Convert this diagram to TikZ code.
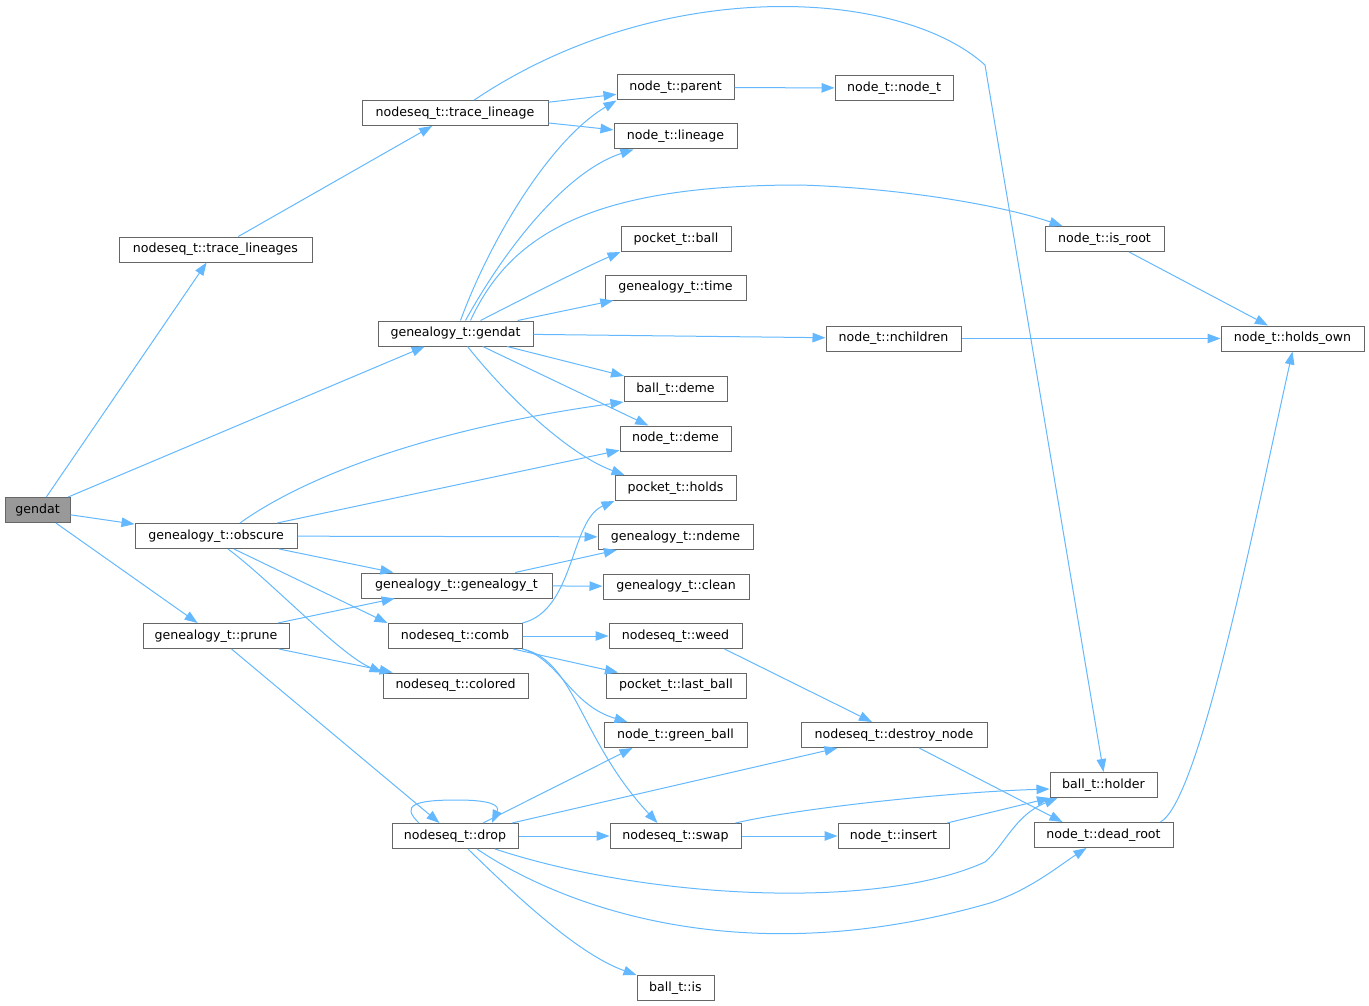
\documentclass[tikz,border=0pt]{standalone}
\usepackage{fontspec}
\setmainfont{DejaVu Sans}
\usetikzlibrary{arrows.meta}
\definecolor{callblue}{HTML}{63B8FF}
\definecolor{boxgray}{HTML}{666666}
\definecolor{rootgray}{HTML}{999999}

\begin{document}
\begin{tikzpicture}[x=1pt, y=-1pt,
		fn/.style={draw=boxgray, line width=1pt, rectangle, inner sep=0pt, minimum height=25pt, font=\fontsize{12.6}{15}\selectfont},
		root/.style={fn, fill=rootgray},
		calls/.style={draw=callblue, line width=1pt, -{Triangle[length=13pt,width=9.5pt]}}]
		\useasboundingbox (0,0) rectangle (1369,1006);
		% column 0 and 1
		\node[root, minimum width=65pt] (gendat) at (37.5,510) {gendat};
		\node[fn, minimum width=193pt] (tlins) at (215.5,249.5) {nodeseq\_t::trace\_lineages};
		\node[fn, minimum width=162pt] (obscure) at (216,536) {genealogy\_t::obscure};
		\node[fn, minimum width=146pt] (prune) at (216,636) {genealogy\_t::prune};
		% column 2
		\node[fn, minimum width=186pt] (tlin) at (455,113) {nodeseq\_t::trace\_lineage};
		\node[fn, minimum width=155pt] (ggendat) at (455.5,333.5) {genealogy\_t::gendat};
		\node[fn, minimum width=191pt] (gconstr) at (456.5,585.5) {genealogy\_t::genealogy\_t};
		\node[fn, minimum width=134pt] (comb) at (455,636) {nodeseq\_t::comb};
		\node[fn, minimum width=145pt] (colored) at (455.5,685.5) {nodeseq\_t::colored};
		\node[fn, minimum width=126pt] (drop) at (455,836) {nodeseq\_t::drop};
		% column 3
		\node[fn, minimum width=117pt] (parent) at (675.5,87.5) {node\_t::parent};
		\node[fn, minimum width=123pt] (lineage) at (675.5,136.5) {node\_t::lineage};
		\node[fn, minimum width=110pt] (pball) at (676,239) {pocket\_t::ball};
		\node[fn, minimum width=141pt] (gtime) at (675.5,287.5) {genealogy\_t::time};
		\node[fn, minimum width=103pt] (bdeme) at (675.5,389) {ball\_t::deme};
		\node[fn, minimum width=111pt] (ndeme) at (675.5,438.5) {node\_t::deme};
		\node[fn, minimum width=121pt] (holds) at (675.5,488) {pocket\_t::holds};
		\node[fn, minimum width=155pt] (gndeme) at (675.5,537) {genealogy\_t::ndeme};
		\node[fn, minimum width=146pt] (clean) at (676,586.5) {genealogy\_t::clean};
		\node[fn, minimum width=133pt] (weed) at (675.5,636) {nodeseq\_t::weed};
		\node[fn, minimum width=140pt] (lastball) at (676,685.5) {pocket\_t::last\_ball};
		\node[fn, minimum width=143pt] (greenball) at (675.5,735) {node\_t::green\_ball};
		\node[fn, minimum width=131pt] (swap) at (675.5,836) {nodeseq\_t::swap};
		\node[fn, minimum width=77pt] (ballis) at (675.5,988) {ball\_t::is};
		% column 4
		\node[fn, minimum width=118pt] (nodet) at (894,88) {node\_t::node\_t};
		\node[fn, minimum width=135pt] (nchildren) at (893.5,338.5) {node\_t::nchildren};
		\node[fn, minimum width=186pt] (destroy) at (894,735) {nodeseq\_t::destroy\_node};
		\node[fn, minimum width=111pt] (insert) at (893.5,836) {node\_t::insert};
		% column 5 and 6
		\node[fn, minimum width=119pt] (isroot) at (1104.5,239) {node\_t::is\_root};
		\node[fn, minimum width=107pt] (holder) at (1103.5,785) {ball\_t::holder};
		\node[fn, minimum width=139pt] (deadroot) at (1103.5,835) {node\_t::dead\_root};
		\node[fn, minimum width=143pt] (holdsown) at (1292.5,338.5) {node\_t::holds\_own};
		% calls of gendat
		\draw[calls] (gendat) -- (tlins);
		\draw[calls] (gendat) -- (ggendat);
		\draw[calls] (gendat) -- (obscure);
		\draw[calls] (gendat) -- (prune);
		% trace lineages
		\draw[calls] (tlins) -- (tlin);
		\draw[calls] (tlin) -- (parent);
		\draw[calls] (tlin) -- (lineage);
		\draw[calls] (tlin) .. controls (660,-25) and (900,-12) .. (985,65) -- (holder.north);
		\draw[calls] (parent) -- (nodet);
		% calls of genealogy_t::gendat
		\draw[calls] ([xshift=5pt]ggendat.north) .. controls (490,240) and (550,140) .. (parent.south west);
		\draw[calls] ([xshift=10pt]ggendat.north) .. controls (510,240) and (570,170) .. ([xshift=20pt]lineage.south west);
		\draw[calls] ([xshift=15pt]ggendat.north) .. controls (510,235) and (590,185) .. (800,185) .. controls (900,188) and (1000,205) .. ([xshift=18pt]isroot.north west);
		\draw[calls] ([xshift=25pt]ggendat.north) .. controls (540,290) and (590,265) .. (pball.south west);
		\draw[calls] (ggendat) -- (gtime);
		\draw[calls] (ggendat) -- (nchildren);
		\draw[calls] (ggendat) -- (bdeme);
		\draw[calls] (ggendat) -- (ndeme);
		\draw[calls] ([xshift=12pt]ggendat.south) .. controls (510,400) and (570,455) .. ([xshift=10pt]holds.north west);
		\draw[calls] (nchildren) -- (holdsown);
		\draw[calls] (isroot) -- (holdsown);
		% calls of obscure
		\draw[calls] ([xshift=24pt]obscure.north) .. controls (300,480) and (420,430) .. (bdeme.south west);
		\draw[calls] (obscure) -- (ndeme);
		\draw[calls] (obscure) -- (gndeme);
		\draw[calls] (obscure) -- (gconstr);
		\draw[calls] ([xshift=18pt]obscure.south) -- (comb.north west);
		\draw[calls] ([xshift=12pt]obscure.south) .. controls (270,580) and (340,655) .. (colored.north west);
		\draw[calls] (gconstr) -- (gndeme);
		\draw[calls] (gconstr) -- (clean);
		% calls of prune
		\draw[calls] (prune) -- (gconstr);
		\draw[calls] (prune) -- (colored);
		\draw[calls] (prune) -- (drop);
		% calls of comb
		\draw[calls] (comb.north east) .. controls (575,610) and (570,520) .. (holds.south west);
		\draw[calls] (comb) -- (weed);
		\draw[calls] (comb) -- (lastball);
		\draw[calls] (comb.south east) .. controls (560,660) and (570,705) .. ([xshift=-48pt]greenball.north);
		\draw[calls] (comb.south east) .. controls (575,660) and (580,740) .. ([xshift=-18pt]swap.north);
		\draw[calls] ([xshift=-18pt]weed.south east) -- ([xshift=-22pt]destroy.north);
		% calls of drop
		\draw[calls] ([xshift=-36pt]drop.north) .. controls (400,805) and (415,800) .. (457,800) .. controls (490,800) and (500,805) .. ([xshift=37pt]drop.north);
		\draw[calls] ([xshift=28pt]drop.north) -- ([xshift=-43pt]greenball.south);
		\draw[calls] ([xshift=57pt]drop.north) -- ([xshift=37pt]destroy.south west);
		\draw[calls] (drop) -- (swap);
		\draw[calls] ([xshift=40pt]drop.south) .. controls (650,900) and (880,910) .. (985,862) .. controls (1005,845) and (1015,815) .. ([xshift=8pt]holder.south west);
		\draw[calls] ([xshift=22pt]drop.south) .. controls (560,905) and (740,975) .. (990,903) .. controls (1030,890) and (1060,865) .. ([xshift=-17pt]deadroot.south);
		\draw[calls] ([xshift=13pt]drop.south) .. controls (520,900) and (580,955) .. (ballis.north west);
		% the rest
		\draw[calls] (destroy) -- ([xshift=-41pt]deadroot.north);
		\draw[calls] ([xshift=-6pt]swap.north east) .. controls (800,808) and (950,792) .. ([yshift=-4pt]holder.west);
		\draw[calls] (swap) -- (insert);
		\draw[calls] (insert) -- (holder);
		\draw[calls] ([xshift=-13pt]deadroot.north east) .. controls (1200,800) and (1255,520) .. (holdsown.south);
	\end{tikzpicture}
\end{document}
